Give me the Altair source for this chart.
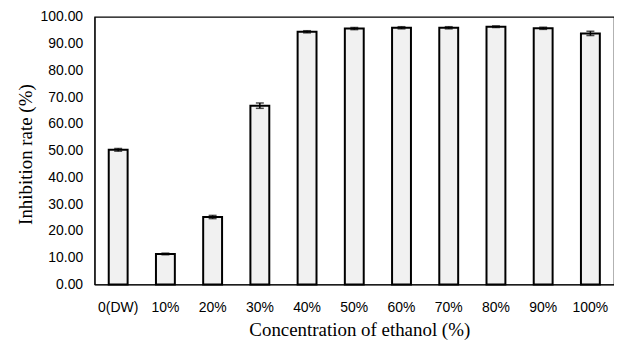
import altair as alt
import pandas as pd

categories = ["0(DW)", "10%", "20%", "30%", "40%", "50%", "60%", "70%", "80%", "90%", "100%"]
values = [50.3, 11.4, 25.2, 66.8, 94.4, 95.6, 95.9, 95.9, 96.3, 95.7, 93.8]
errors = [0.5, 0.3, 0.6, 1.0, 0.4, 0.4, 0.4, 0.4, 0.3, 0.4, 0.8]

df = pd.DataFrame({"cat": categories, "val": values, "err": errors})
df["lo"] = df["val"] - df["err"]
df["hi"] = df["val"] + df["err"]

xscale = alt.Scale(paddingInner=0.6, paddingOuter=0.3)
yscale = alt.Scale(domain=[0, 100])

xaxis = alt.Axis(title="Concentration of ethanol (%)", labelAngle=0, ticks=False,
                 labelFont="Liberation Sans", labelFontSize=14, labelColor="black",
                 labelPadding=16, titleFont="Liberation Serif", titleFontSize=19,
                 titleFontWeight="normal", titleColor="black", titlePadding=6,
                 titleX=266, domainColor="black")
yaxis = alt.Axis(title="Inhibition rate (%)", values=list(range(0, 101, 10)), format=".2f",
                 ticks=False, grid=False, labelFont="Liberation Sans", labelFontSize=14,
                 labelColor="black", labelPadding=12, titleFont="Liberation Serif",
                 titleFontSize=19, titleFontWeight="normal", titleColor="black",
                 titlePadding=5, titleY=138, domainColor="black")

bars = alt.Chart(df).mark_bar(fill="#f1f1f1", stroke="black", strokeWidth=2).encode(
    x=alt.X("cat:N", sort=categories, scale=xscale, axis=xaxis),
    y=alt.Y("val:Q", scale=yscale, axis=yaxis),
)

err = alt.Chart(df).mark_errorbar(ticks=alt.TickConfig(size=8, color="black", thickness=1.5),
                                  color="black", thickness=1.5).encode(
    x=alt.X("cat:N", sort=categories, scale=xscale, axis=xaxis),
    y=alt.Y("lo:Q", scale=yscale, axis=yaxis),
    y2="hi:Q",
)

chart = (bars + err).properties(
    width=522, height=269,
    background="white",
    autosize=alt.AutoSizeParams(type="none"),
    padding={"left": 87, "top": 8, "right": 0, "bottom": 60},
).configure_view(stroke="black", strokeWidth=1.2)

chart.save("out.html", embed_options={"renderer": "svg", "actions": False})
